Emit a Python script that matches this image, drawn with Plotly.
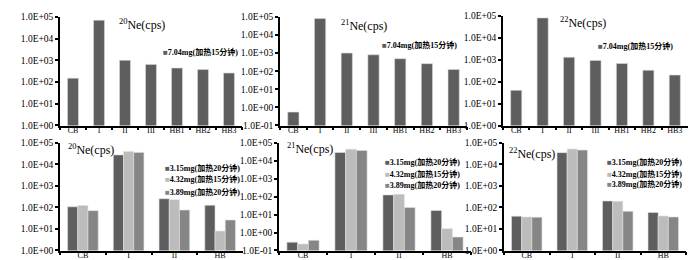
import plotly.graph_objects as go

# ---------------- data ----------------
cats_top = ["CB", "I", "II", "III", "HB1", "HB2", "HB3"]
ne20_top = [150, 70000, 1000, 650, 440, 380, 260]
ne21_top = [0.55, 80000, 1000, 800, 490, 260, 125]
ne22_top = [40, 81000, 1300, 930, 670, 330, 200]

cats_bot = ["CB", "I", "II", "HB"]
ne20_315 = [107, 27500, 253, 127]
ne20_432 = [123, 40000, 229, 8]
ne20_389 = [71, 35800, 76, 26]
ne21_315 = [0.29, 29000, 125, 17]
ne21_432 = [0.23, 44000, 137, 1.65]
ne21_389 = [0.37, 37500, 25, 0.56]
ne22_315 = [39, 35000, 200, 58]
ne22_432 = [36, 52000, 192, 40]
ne22_389 = [35, 46000, 66, 36]

top_series = "7.04mg(加热15分钟)"
bot_series = ["3.15mg(加热20分钟)", "4.32mg(加热15分钟)", "3.89mg(加热20分钟)"]
titles = ["<sup>20</sup>Ne(cps)", "<sup>21</sup>Ne(cps)", "<sup>22</sup>Ne(cps)"]

tick_vals = [0.1, 1, 10, 100, 1000, 10000, 100000]
tick_text = ["1.0E-01", "1.0E+00", "1.0E+01", "1.0E+02", "1.0E+03", "1.0E+04", "1.0E+05"]

# ---------------- style ----------------
W, H = 700, 260
C_DARK, C_LIGHT, C_MED = "#5e5e5e", "#bcbcbc", "#868686"
FONT = "Liberation Serif, Times New Roman, Noto Sans CJK SC, serif"

def px_x(x):
    return x / W

def px_y(y):
    return 1 - y / H

# panel boxes in pixels: (x0, x1, ytop, ybottom, first tick index)
panels = [
    (52, 234, 4, 117, 1),
    (272, 459, 4, 117, 0),
    (495, 680, 3, 117, 1),
    (52, 235, 135, 247, 1),
    (271, 463, 135, 247, 0),
    (496, 678, 135, 247, 1),
]

fig = go.Figure()

top_data = [ne20_top, ne21_top, ne22_top]
for i, vals in enumerate(top_data):
    ax = "" if i == 0 else str(i + 1)
    fig.add_trace(go.Bar(x=cats_top, y=vals, xaxis="x" + ax, yaxis="y" + ax,
                         marker=dict(color=C_DARK, line=dict(color="#d8d8d8", width=0.6)),
                         width=0.42, showlegend=False, name=top_series))

bot_data = [(ne20_315, ne20_432, ne20_389),
            (ne21_315, ne21_432, ne21_389),
            (ne22_315, ne22_432, ne22_389)]
for i, group in enumerate(bot_data):
    ax = str(i + 4)
    for vals, col, nm in zip(group, [C_DARK, C_LIGHT, C_MED], bot_series):
        fig.add_trace(go.Bar(x=cats_bot, y=vals, xaxis="x" + ax, yaxis="y" + ax,
                             marker=dict(color=col, line=dict(color="#e0e0e0", width=0.6)),
                             showlegend=False, name=nm, offsetgroup=nm))

layout = dict(
    width=W, height=H, margin=dict(l=0, r=0, t=0, b=0),
    paper_bgcolor="white", plot_bgcolor="white",
    barmode="group", bargap=0.33, bargroupgap=0.0,
    font=dict(family=FONT, color="black"),
    showlegend=False,
)

for i, (x0, x1, yt, yb, k0) in enumerate(panels):
    n = "" if i == 0 else str(i + 1)
    layout["xaxis" + n] = dict(
        domain=[px_x(x0), px_x(x1)], anchor="y" + n, type="category",
        showline=True, linecolor="black", linewidth=1.5, ticks="outside",
        tickson="boundaries", ticklen=3, tickwidth=1.5, tickcolor="black",
        tickangle=0, tickfont=dict(size=8, family=FONT),
        ticklabelstandoff=-4,
        showgrid=False, zeroline=False,
    )
    layout["yaxis" + n] = dict(
        domain=[px_y(yb), px_y(yt)], anchor="x" + n, type="log",
        range=[k0 - 1, 5],
        showline=True, linecolor="black", linewidth=1.5, ticks="outside",
        ticklen=3, tickwidth=1.5, tickcolor="black",
        tickvals=tick_vals[k0:], ticktext=tick_text[k0:],
        tickfont=dict(size=9.5, family=FONT), showgrid=False, zeroline=False,
    )

fig.update_layout(**layout)

# titles
title_pos = [(134, 12), (356, 13), (575, 10), (83, 142), (302, 141), (524, 146)]
for i, (tx, ty) in enumerate(title_pos):
    fig.add_annotation(x=px_x(tx), y=px_y(ty), xref="paper", yref="paper",
                       text=titles[i % 3], showarrow=False,
                       font=dict(size=12, family=FONT), xanchor="center", yanchor="middle")

# legends (top panels)
top_leg = [(153, 41), (372, 33), (588, 34)]
for lx, ly in top_leg:
    fig.add_annotation(x=px_x(lx), y=px_y(ly), xref="paper", yref="paper",
                       text=f"<span style='color:{C_DARK}'>■</span><b>{top_series}</b>",
                       showarrow=False, font=dict(size=8, family=FONT),
                       xanchor="left", yanchor="middle")

# legends (bottom panels)
bot_leg = [(155, [161, 173, 186]), (375, [155, 167, 179]), (597, [155, 167, 178])]
for lx, rows in bot_leg:
    for ly, col, nm in zip(rows, [C_DARK, C_LIGHT, C_MED], bot_series):
        fig.add_annotation(x=px_x(lx), y=px_y(ly), xref="paper", yref="paper",
                           text=f"<span style='color:{col}'>■</span><b>{nm}</b>",
                           showarrow=False, font=dict(size=8, family=FONT),
                           xanchor="left", yanchor="middle")

fig.write_html("out.html")
